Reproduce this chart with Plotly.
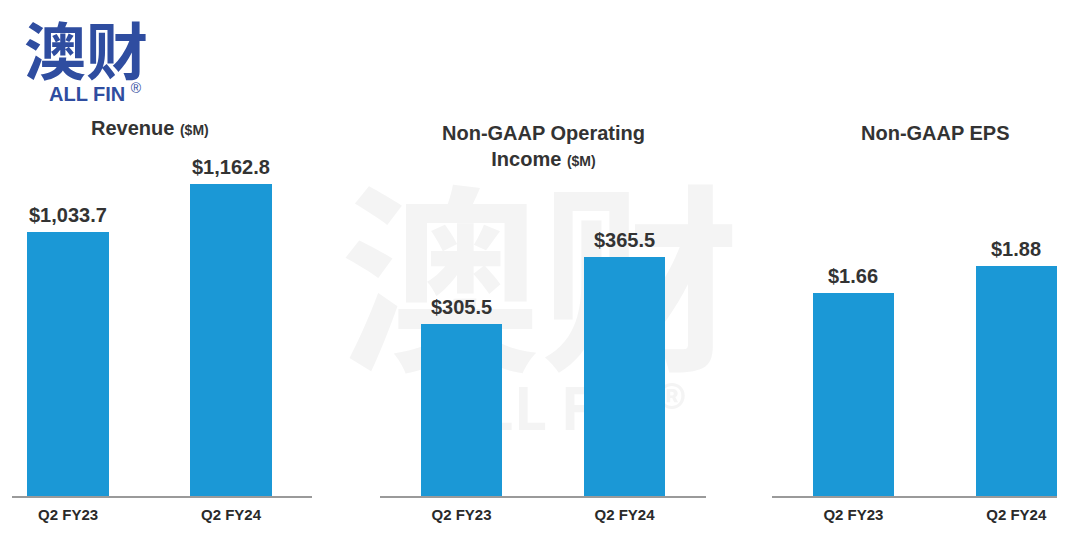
import plotly.graph_objects as go

# ---- data ----
categories = ["Q2 FY23", "Q2 FY24"]
revenue = [1033.7, 1162.8]
op_income = [305.5, 365.5]
eps = [1.66, 1.88]
revenue_labels = ["$1,033.7", "$1,162.8"]
op_income_labels = ["$305.5", "$365.5"]
eps_labels = ["$1.66", "$1.88"]

W, H = 1080, 548
BAR = "#1B98D6"
TXT = "#333333"
FONT = "Liberation Sans, Arial, sans-serif"

def px(x):
    return x / W

def py(y):
    return 1 - y / H

fig = go.Figure()

# watermark (drawn first, beneath bars)
fig.add_trace(go.Scatter(
    x=[540], y=[305], mode="text", text=["<b>澳财</b>"],
    textfont=dict(family="Noto Sans CJK SC, sans-serif", size=200, color="#f4f4f4"),
    xaxis="x", yaxis="y", hoverinfo="skip", showlegend=False,
))
fig.add_trace(go.Scatter(
    x=[565], y=[415], mode="text", text=["<b>ALL FIN®</b>"],
    textfont=dict(family="Noto Sans CJK SC, sans-serif", size=58, color="#f4f4f4"),
    xaxis="x", yaxis="y", hoverinfo="skip", showlegend=False,
))

panels = [
    (revenue, revenue_labels, "x2", "y2", (12, 312), [-0.344, 1.497], [323.6, 1388.7], 0.503),
    (op_income, op_income_labels, "x3", "y3", (380, 706), [-0.5, 1.5], [151.5, 506.1], 0.5),
    (eps, eps_labels, "x4", "y4", (772, 1057), [-0.5, 1.25], [0, 3.238], 0.5),
]

y_dom = [py(496), py(100)]
annotations = []
for vals, labels, xa, ya, (x0, x1), xr, yr, bw in panels:
    fig.add_trace(go.Bar(
        x=categories, y=vals, xaxis=xa, yaxis=ya, width=bw,
        marker=dict(color=BAR, line=dict(width=0)),
        showlegend=False, hoverinfo="skip",
    ))
    for c, v, t in zip(categories, vals, labels):
        annotations.append(dict(
            x=c, y=v, xref=xa, yref=ya, text=f"<b>{t}</b>", showarrow=False,
            yanchor="bottom", yshift=4,
            font=dict(family=FONT, size=20, color=TXT),
        ))
    n = xa[1:]
    fig.update_layout(**{
        f"xaxis{n}": dict(domain=[px(x0), px(x1)], range=xr, type="category",
                          showline=True, linecolor="#9a9a9a", linewidth=2,
                          showgrid=False, zeroline=False, ticks="",
                          ticklabelstandoff=4,
                          tickfont=dict(family=FONT, size=15, color="#2a2a2a", weight="bold"),
                          anchor=f"y{n}", fixedrange=True),
        f"yaxis{n}": dict(domain=y_dom, range=yr, visible=False,
                          showgrid=False, zeroline=False,
                          anchor=f"x{n}", fixedrange=True),
    })

# titles
annotations += [
    dict(x=px(150), y=py(128), xref="paper", yref="paper", showarrow=False,
         text="<b>Revenue</b> <b><span style='font-size:14px'>($M)</span></b>",
         font=dict(family=FONT, size=20, color=TXT), xanchor="center", yanchor="middle"),
    dict(x=px(543), y=py(146), xref="paper", yref="paper", showarrow=False,
         text="<b>Non-GAAP Operating</b><br><b>Income</b> <b><span style='font-size:14px'>($M)</span></b>",
         font=dict(family=FONT, size=20, color=TXT), xanchor="center", yanchor="middle"),
    dict(x=px(935), y=py(133), xref="paper", yref="paper", showarrow=False,
         text="<b>Non-GAAP EPS</b>",
         font=dict(family=FONT, size=20, color=TXT), xanchor="center", yanchor="middle"),
    # logo
    dict(x=px(86), y=py(48), xref="paper", yref="paper", showarrow=False,
         text="<b>澳财</b>", font=dict(family="Noto Sans CJK SC, sans-serif", size=62, color="#2F4DA0"),
         xanchor="center", yanchor="middle"),
    dict(x=px(47), y=py(92), xref="paper", yref="paper", showarrow=False,
         text="<b>ALL FIN</b> <sup>®</sup>", font=dict(family=FONT, size=20, color="#2F4DA0"),
         xanchor="left", yanchor="middle"),
]

fig.update_layout(
    width=W, height=H,
    margin=dict(l=0, r=0, t=0, b=0),
    paper_bgcolor="white", plot_bgcolor="rgba(0,0,0,0)",
    xaxis=dict(domain=[0, 1], range=[0, W], visible=False, fixedrange=True),
    yaxis=dict(domain=[0, 1], range=[H, 0], visible=False, fixedrange=True),
    annotations=annotations,
    bargap=0,
)

fig.write_html("out.html", config={"displayModeBar": False},
               post_script="document.body.style.margin='0';")
